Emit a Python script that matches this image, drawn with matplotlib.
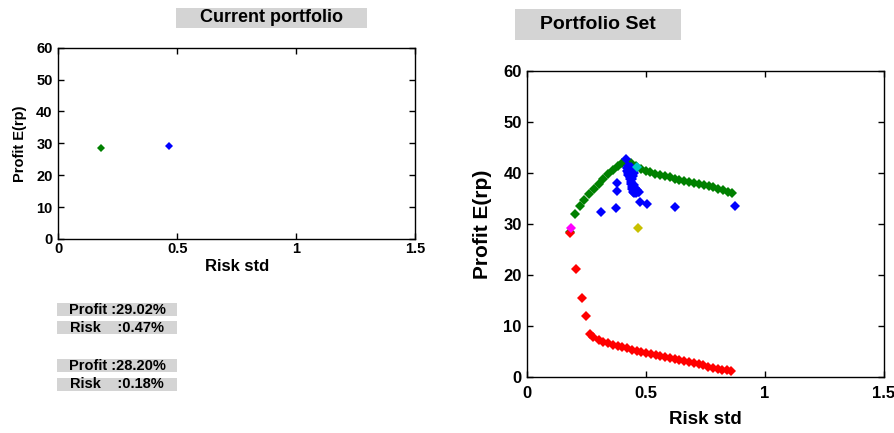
import matplotlib
matplotlib.use("Agg")
import matplotlib.pyplot as plt
from matplotlib.patches import Rectangle

FAM = ['Liberation Sans', 'DejaVu Sans']
plt.rcParams['font.family'] = FAM

# ---- data ----
current_x = [0.18, 0.466]
current_y = [28.4, 29.06]
current_colors = ['green', 'blue']

green_x = [0.180, 0.199, 0.220, 0.2395, 0.259, 0.279, 0.300, 0.319, 0.339, 0.360, 0.380, 0.398, 0.416,
           0.437, 0.457, 0.478, 0.498, 0.518, 0.539, 0.559, 0.579, 0.600, 0.620, 0.640, 0.661,
           0.681, 0.701, 0.722, 0.742, 0.762, 0.783, 0.803, 0.823, 0.844, 0.861]
green_y = [28.4, 32.0, 33.5, 34.7, 35.9, 36.8, 37.8, 38.8, 39.7, 40.5, 41.3, 42.0, 42.4,
           41.9, 41.4, 40.8, 40.3, 40.1, 39.8, 39.5, 39.3, 39.1, 38.9, 38.7,
           38.5, 38.3, 38.1, 37.9, 37.7, 37.5, 37.2, 36.9, 36.7, 36.3, 36.0]

red_x = [0.178, 0.2045, 0.230, 0.245, 0.263, 0.276, 0.301, 0.320, 0.340, 0.360, 0.380, 0.400, 0.420,
         0.440, 0.460, 0.480, 0.500, 0.520, 0.540, 0.560, 0.580, 0.600, 0.620, 0.640, 0.660,
         0.680, 0.700, 0.720, 0.740, 0.760, 0.780, 0.800, 0.820, 0.840, 0.857]
red_y = [28.2, 21.2, 15.5, 12.0, 8.4, 7.8, 7.2, 6.9, 6.6, 6.3, 6.1, 5.8, 5.6,
         5.3, 5.1, 4.9, 4.6, 4.4, 4.2, 4.0, 3.8, 3.6, 3.4, 3.2, 3.0,
         2.8, 2.6, 2.4, 2.2, 2.0, 1.8, 1.6, 1.4, 1.3, 1.1]

blue_x = [0.3095, 0.374, 0.378, 0.378, 0.475, 0.504, 0.623, 0.874, 0.413,
          0.418, 0.422, 0.425, 0.428, 0.430, 0.433, 0.436, 0.438, 0.440, 0.442, 0.445, 0.448,
          0.452, 0.458, 0.465, 0.470, 0.420, 0.432, 0.440, 0.445, 0.450, 0.436, 0.441, 0.447,
          0.452, 0.458, 0.462, 0.425, 0.437, 0.427, 0.434, 0.443, 0.449]
blue_y = [32.4, 33.2, 36.5, 38.1, 34.2, 33.9, 33.3, 33.6, 42.7,
          40.3, 40.0, 39.6, 40.5, 39.2, 38.8, 38.3, 37.8, 37.3, 36.8, 36.3, 36.0,
          36.2, 36.4, 36.3, 36.2, 41.0, 40.3, 40.8, 40.2, 40.6, 39.5, 38.8, 37.6,
          37.0, 36.0, 36.6, 41.3, 41.2, 40.8, 39.9, 39.4, 40.0]

magenta_pt = (0.183, 29.1)
yellow_pt = (0.465, 29.1)
cyan_pt = (0.461, 41.1)

info_lines = ["Profit :29.02%", "Risk    :0.47%", "Profit :28.20%", "Risk    :0.18%"]

xticks = [0, 0.5, 1, 1.5]
xtick_labels = ['0', '0.5', '1', '1.5']
yticks = [0, 10, 20, 30, 40, 50, 60]

W, H = 895, 433
fig = plt.figure(figsize=(W / 100, H / 100), dpi=100)
grey = '#d4d4d4'


def px_rect(x0, y0, x1, y1):
    return [x0 / W, 1 - y1 / H, (x1 - x0) / W, (y1 - y0) / H]


def style_axes(ax, tick_fs, xlabel_fs, ylabel_fs, xpad, xlabpad, ylabpad):
    ax.set_xlim(0, 1.5)
    ax.set_ylim(0, 60)
    ax.set_xticks(xticks)
    ax.set_xticklabels(xtick_labels, fontsize=tick_fs, fontweight='bold')
    ax.set_yticks(yticks)
    ax.set_yticklabels([str(v) for v in yticks], fontsize=tick_fs, fontweight='bold')
    ax.tick_params(direction='in', top=True, right=True, length=4, width=1)
    ax.tick_params(axis='x', pad=xpad)
    ax.tick_params(axis='y', pad=4)
    for s in ax.spines.values():
        s.set_linewidth(1)
    ax.set_xlabel('Risk std', fontsize=xlabel_fs, fontweight='bold', labelpad=xlabpad)
    ax.set_ylabel('Profit E(rp)', fontsize=ylabel_fs, fontweight='bold', labelpad=ylabpad)


# ---- left axes ----
ax1 = fig.add_axes(px_rect(58.3, 47.7, 415, 239))
for x, y, c in zip(current_x, current_y, current_colors):
    ax1.plot([x], [y], marker='D', color=c, markersize=4, linestyle='none',
             markeredgewidth=0)
style_axes(ax1, 10.5, 12, 10.5, 2, 2, 7)

# ---- right axes ----
ax2 = fig.add_axes(px_rect(527.3, 71, 884, 376.7))
ms = 4.8
ax2.plot(green_x, green_y, 'D', color='green', markersize=ms, markeredgewidth=0)
ax2.plot(red_x, red_y, 'D', color='red', markersize=ms, markeredgewidth=0)
ax2.plot(blue_x, blue_y, 'D', color='blue', markersize=ms, markeredgewidth=0)
ax2.plot([magenta_pt[0]], [magenta_pt[1]], 'D', color='magenta', markersize=ms, markeredgewidth=0)
ax2.plot([yellow_pt[0]], [yellow_pt[1]], 'D', color='#c8c000', markersize=ms, markeredgewidth=0)
ax2.plot([cyan_pt[0]], [cyan_pt[1]], 'D', color='#00c8c8', markersize=ms, markeredgewidth=0)
style_axes(ax2, 12, 13.5, 15, 7, 7, 8)

# ---- title boxes ----
for (x0, y0, x1, y1), txt, fs in [((176, 8, 367, 28), 'Current portfolio', 13),
                                  ((515, 9, 681, 40), 'Portfolio Set', 14)]:
    r = px_rect(x0, y0, x1, y1)
    fig.patches.append(Rectangle((r[0], r[1]), r[2], r[3], transform=fig.transFigure,
                                 facecolor=grey, edgecolor='none'))
    fig.text(r[0] + r[2] / 2, r[1] + r[3] / 2, txt, ha='center', va='center',
             fontsize=fs, fontweight='bold')

# ---- info boxes ----
rows = [(303, 316), (321, 334), (359, 372), (378, 391)]
for (y0, y1), txt in zip(rows, info_lines):
    r = px_rect(57, y0, 177, y1)
    fig.patches.append(Rectangle((r[0], r[1]), r[2], r[3], transform=fig.transFigure,
                                 facecolor=grey, edgecolor='none'))
    fig.text(r[0] + r[2] / 2, r[1] + r[3] / 2, txt, ha='center', va='center',
             fontsize=10.5, fontweight='bold')

fig.savefig('out.png', dpi=100)
